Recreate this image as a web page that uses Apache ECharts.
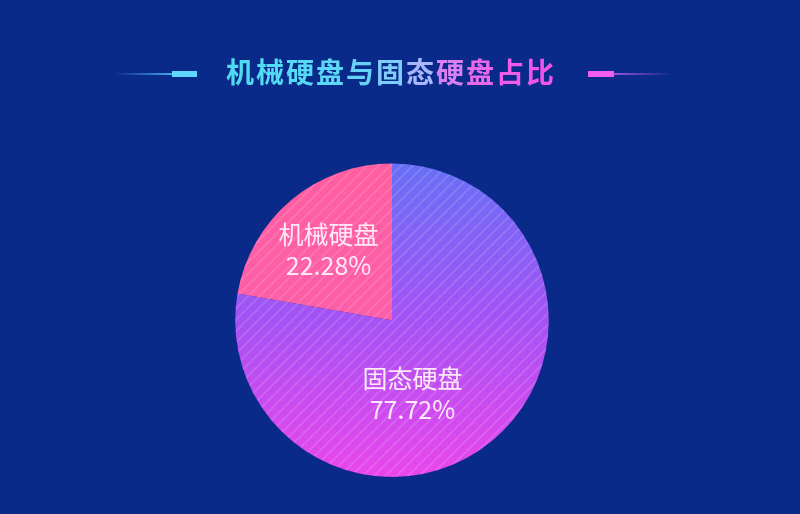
<!DOCTYPE html>
<html><head><meta charset="utf-8">
<script src="https://cdn.jsdelivr.net/npm/echarts@6/dist/echarts.min.js"></script>
<style>html,body{margin:0;padding:0;background:#0a2a8a;}#c{width:800px;height:514px;}</style>
</head><body><div id="c"></div>
<script>
const titleChars = ['机', '械', '硬', '盘', '与', '固', '态', '硬', '盘', '占', '比'];
const titleColors = ['#4fdcf0', '#52dbf2', '#56d9f4', '#5cd6f6', '#66d2f8', '#80ccfa', '#a8b6fb', '#d880f2', '#e868ec', '#ee5ce9', '#f055e8'];
const categories = ['固态硬盘', '机械硬盘'];
const values = [77.72, 22.28];

const chart = echarts.init(document.getElementById('c'));
const G = echarts.graphic.LinearGradient;
const decal = {symbol: 'rect', symbolSize: 1, dashArrayX: [1, 0], dashArrayY: [2, 6], rotation: -Math.PI / 4, color: 'rgba(255,255,255,0.12)'};
const colors = [
  new G(0, 0, 0, 1, [{offset: 0, color: '#676ff6'}, {offset: 0.5, color: '#a552f4'}, {offset: 1, color: '#ea46ec'}]),
  new G(0, 0, 0, 1, [{offset: 0, color: '#ff5ea0'}, {offset: 1, color: '#fc5ea8'}])
];
const labelShift = [[-32, 12], [-11, -8]];

const rich = {};
titleChars.forEach((c, i) => { rich['c' + i] = {fill: titleColors[i], font: 'bold 28px "Noto Sans CJK SC"', padding: [0, 1, 0, 1]}; });
const titleRich = titleChars.map((c, i) => '{c' + i + '|' + c + '}').join('');

chart.setOption({
  backgroundColor: '#0a2a8a',
  aria: {enabled: true, decal: {show: true}},
  graphic: [
    {type: 'rect', shape: {x: 115, y: 73, width: 58, height: 2}, style: {fill: new G(0, 0, 1, 0, [{offset: 0, color: 'rgba(80,200,255,0)'}, {offset: 1, color: 'rgba(80,200,255,0.8)'}])}},
    {type: 'rect', shape: {x: 172, y: 71, width: 25, height: 6}, style: {fill: '#5fd6ff'}},
    {type: 'rect', shape: {x: 588, y: 71, width: 26, height: 6}, style: {fill: '#f25ff0'}},
    {type: 'rect', shape: {x: 613, y: 73, width: 58, height: 2}, style: {fill: new G(0, 0, 1, 0, [{offset: 0, color: 'rgba(200,90,240,0.8)'}, {offset: 1, color: 'rgba(200,90,240,0)'}])}},
    {type: 'text', left: 226, top: 58, style: {text: titleRich, rich: rich, font: 'bold 28px "Noto Sans CJK SC"'}}
  ],
  series: [{
    type: 'pie',
    center: ['49%', '62.3%'],
    radius: '61%',
    startAngle: 90,
    clockwise: true,
    silent: true,
    label: {
      show: true, position: 'inside', color: '#ffe9f7',
      fontFamily: 'Noto Sans CJK SC', fontSize: 25, lineHeight: 31,
      formatter: p => p.name + '\n' + p.value.toFixed(2) + '%'
    },
    labelLayout: p => ({dx: labelShift[p.dataIndex][0], dy: labelShift[p.dataIndex][1]}),
    labelLine: {show: false},
    data: categories.map((n, i) => ({name: n, value: values[i], itemStyle: {color: colors[i], decal: decal}}))
  }]
});
</script></body></html>
